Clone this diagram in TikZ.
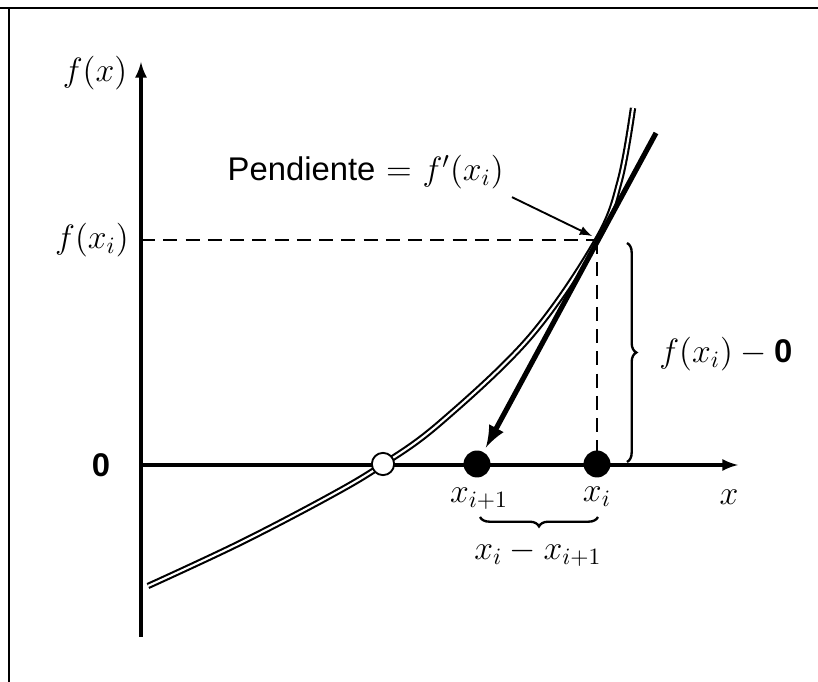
\documentclass[tikz,border=0pt]{standalone}
\usepackage{amsmath}
\usepackage{fontspec}
\setsansfont{Liberation Sans}
\usetikzlibrary{arrows}
\usetikzlibrary{decorations.pathreplacing}

\begin{document}
\begin{tikzpicture}[x=0.015cm,y=-0.015cm,
  every node/.style={font=\fontsize{14}{16}\selectfont},
  axis/.style={line width=1.3pt,-latex},
  guide/.style={line width=1pt,dash pattern=on 6pt off 3.5pt},
  dot/.style={circle,fill=black,inner sep=0pt,minimum size=11.5pt},
  hole/.style={circle,draw,fill=white,line width=0.8pt,inner sep=0pt,minimum size=9.5pt},
  curly/.style={decorate,decoration={brace,amplitude=4pt},line width=1pt}]
  \useasboundingbox (0,0) rectangle (818,682);

  % Frame of the scan
  \draw[line width=0.6pt] (0,8) -- (818,8);
  \draw[line width=0.6pt] (9,8) -- (9,682);

  % Key points
  \coordinate (O) at (141,465);
  \coordinate (ytop) at (141,62);
  \coordinate (ybot) at (141,637);
  \coordinate (xend) at (738,465);
  \coordinate (Pi) at (597,240);
  \coordinate (yfi) at (141,240);
  \coordinate (T) at (656,133);

  % Draw the axes
  \draw[axis] (ybot) -- (ytop);
  \draw[axis] (O) -- (xend);

  % Axis labels
  \node (fx) at (95,73) {$f(x)$};
  \node (fxi) at (92,240) {$f(x_i)$};
  \node (zero) at (101,465) {\textsf{\bfseries 0}};
  \node (xlab) at (729,497) {$x$};

  % Dashed guides
  \draw[guide] (yfi) -- (Pi);
  \draw[guide] (Pi) -- (597,452);

  % Draw the function
  \draw[line width=0.9pt,double=white,double distance=0.9pt]
    plot[smooth,tension=0.6] coordinates {(148,586) (240,543) (330,496)
      (382,465) (440,423) (530,337) (597,240) (620,180) (633,108)};

  % Root and iterates
  \node[hole] (root) at (383,464) {};
  \node[dot] (xn) at (477,464) {};
  \node[dot] (xi) at (597,464) {};
  \node (xnlab) at (479,499) {$x_{i+1}$};
  \node (xilab) at (597,497) {$x_i$};

  % Draw the tangent
  \draw[line width=2.2pt,-latex,shorten >=2pt] (T) -- (xn);

  % Slope label
  \node[anchor=east] (slope) at (512,172) {\textsf{Pendiente} $=$ $f'(x_i)$};
  \draw[line width=0.8pt,-latex] (slope.south east) -- (592,236);

  % Braces
  \draw[curly] (627,243) -- (627,462);
  \node[anchor=west] (diff) at (651,354) {$f(x_i) - \textsf{\bfseries 0}$};
  \draw[curly] (598,517) -- (480,517);
  \node (dx) at (538,553) {$x_i - x_{i+1}$};

\end{tikzpicture}
\end{document}
